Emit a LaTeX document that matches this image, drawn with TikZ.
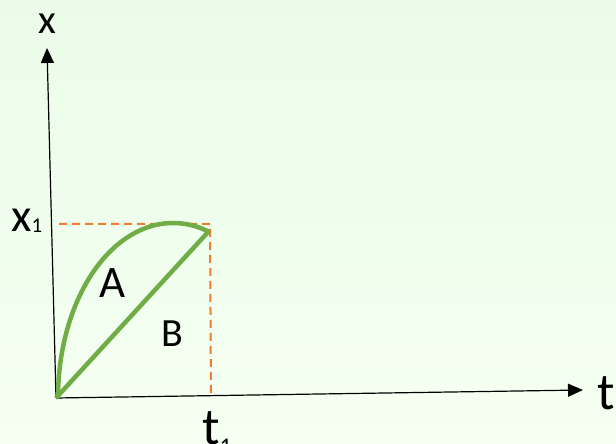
\documentclass[tikz,border=0pt]{standalone}
\usepackage{fontspec}
\setmainfont{Carlito}
\usepackage{tikz}
\usetikzlibrary{positioning, arrows.meta}
\definecolor{bgTop}{HTML}{EAFCE8}
\definecolor{bgLow}{HTML}{F5FFF2}
\definecolor{curveGreen}{HTML}{70AD47}
\definecolor{guideOrange}{HTML}{ED7D31}

\begin{document}
\begin{tikzpicture}[
    x=1pt, y=1pt,
    lbl/.style={inner sep=0pt, font=\fontsize{41}{44}\selectfont},
    axis/.style={-{Triangle[length=15pt, width=13pt]}, line width=1.2pt, black},
    guide/.style={dashed, dash pattern=on 8pt off 5pt, line width=2pt, guideOrange},
    motion/.style={line width=4.5pt, curveGreen},
  ]
    % background
    \fill[top color=bgTop, bottom color=bgLow] (0,0) rectangle (616,444);
    \useasboundingbox (0,0) rectangle (616,444);
    \clip (0,0) rectangle (616,444);

    % axes
    \coordinate (o) at (56,46);
    \coordinate (ytip) at (47,396);
    \coordinate (ttip) at (583,54);
    \draw[axis] (o) -- (ytip);
    \draw[axis] (o) -- (ttip);
    \node[lbl, above=14pt of ytip] (xlab) {x};
    \node[lbl, font=\fontsize{52}{56}\selectfont] (tlab) at (606.5,50.5) {t};

    % guides to the end point
    \coordinate (p) at (210,220);
    \coordinate (py) at (59,220);
    \coordinate (pt) at (211,46);
    \draw[guide] (py) -- (p) -- (pt);
    \node[lbl, font=\fontsize{47}{50}\selectfont, anchor=base west] (x1) at (11,212)
      {x\raisebox{-1pt}{\fontsize{21}{24}\selectfont 1}};
    \node[lbl, font=\fontsize{52}{56}\selectfont, anchor=north west] (t1) at (202,33)
      {t\raisebox{-10pt}{\fontsize{24}{26}\selectfont 1}};

    % paths A and B
    \coordinate (e) at (209,213);
    \draw[motion] (58,46) arc[start angle=180, end angle=72, x radius=115, y radius=175];
    \draw[motion] (o) -- (e);
    \node[lbl, font=\fontsize{45}{48}\selectfont] (a) at (113,161) {A};
    \node[lbl, font=\fontsize{40}{44}\selectfont] (b) at (172,110) {B};
  \end{tikzpicture}
\end{document}
